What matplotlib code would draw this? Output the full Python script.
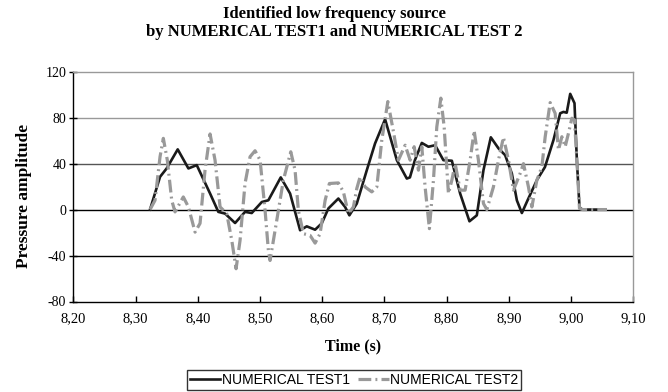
import matplotlib
matplotlib.use("Agg")
import matplotlib.pyplot as plt
import numpy as np

# Numerical test 1 (black solid)
t1 = [8.3233, 8.3394, 8.350, 8.3678, 8.385, 8.3984, 8.4198, 8.4331, 8.4439, 8.460,
      8.476, 8.4868, 8.503, 8.5135, 8.5334, 8.5484, 8.5645, 8.5752, 8.5886, 8.5993,
      8.610, 8.626, 8.6368, 8.6437, 8.6556, 8.6717, 8.685, 8.7011, 8.720, 8.736,
      8.741, 8.749, 8.7601, 8.7707, 8.7815, 8.7948, 8.8084, 8.8217, 8.8367, 8.8485,
      8.8592, 8.871, 8.8833, 8.894, 8.9048, 8.9129, 8.9209, 8.930, 8.945, 8.958,
      8.9717, 8.9825, 8.9877, 8.993, 8.9986, 9.0055, 9.0093, 9.0135, 9.0173, 9.055]
p1 = [0, 28.5, 35.8, 52.4, 35.8, 38.7, 14, -2, -3.5, -11.7,
      -2, -3, 6.6, 8.1, 28, 14, -18, -14.6, -17.5, -12,
      1, 9.6, 2.3, -5, 5.2, 34.3, 57.6, 78.6, 43, 27,
      28, 43, 58, 54.7, 56, 43, 42.5, 14, -10.2, -5,
      34.3, 62.9, 53.3, 47.4, 31.4, 8, -3, 8, 25.6, 37,
      60.5, 83.8, 85, 84.3, 100.7, 92.6, 43, 2.3, 0, 0]

# Numerical test 2 (gray dash-dot)
t2 = [8.3233, 8.3313, 8.3394, 8.3447, 8.3511, 8.3582, 8.3635, 8.3768, 8.385, 8.3957,
      8.4037, 8.4117, 8.4198, 8.4278, 8.4359, 8.4466, 8.4547, 8.4616, 8.468, 8.476,
      8.4841, 8.4921, 8.5002, 8.5082, 8.5135, 8.5162, 8.527, 8.5376, 8.5495, 8.5564,
      8.5617, 8.5698, 8.5805, 8.5886, 8.5966, 8.6047, 8.6116, 8.626, 8.6341, 8.6421,
      8.6502, 8.6556, 8.6609, 8.669, 8.6797, 8.6878, 8.6958, 8.7055, 8.7145, 8.7225,
      8.7333, 8.7414, 8.7478, 8.7547, 8.7601, 8.7654, 8.7723, 8.7788, 8.7842, 8.7907,
      8.796, 8.8029, 8.8084, 8.8137, 8.8217, 8.8297, 8.8378, 8.8442, 8.8511, 8.8592,
      8.8646, 8.8752, 8.8833, 8.8913, 8.8994, 8.9074, 8.9181, 8.9235, 8.9315, 8.937,
      8.945, 8.953, 8.9584, 8.9664, 8.9744, 8.9797, 8.9852, 8.9905, 8.9958, 9.0013,
      9.0055, 9.0093, 9.0135, 9.019, 9.0576]
p2 = [0, 8, 46, 62, 43, 8, -2, 11, 2.3, -19.6,
      -12, 34.3, 65.8, 43, 2.3, -3.5, -26.8, -51.5, -26.8, 22.7,
      46, 51.2, 43, -0.6, -35.5, -44.3, -9.3, 25.6, 50.3, 34.3,
      -0.6, -21, -22.4, -29.2, -21, 8, 22.7, 23.2, 15.4, -3.5,
      2.3, 18.3, 28.5, 19.7, 15.4, 19.7, 60.5, 94, 67.8, 43,
      56, 43, 54.7, 34.3, 54.7, 19.7, -16.6, 25.6, 72, 97,
      72, 14, 25.6, 40, 16.9, 16.9, 43, 68.7, 43, 5.2,
      0, 19.7, 43, 62.9, 43, 16.9, 31.4, 40, 19.7, 2.3,
      25.6, 37, 63.4, 93.1, 83.8, 51.8, 63.4, 54.7, 66.4, 79.5,
      78, 43, 1, 0, 0]

xticks = [8.2, 8.3, 8.4, 8.5, 8.6, 8.7, 8.8, 8.9, 9.0, 9.1]
xticklabels = ['8,20', '8,30', '8,40', '8,50', '8,60', '8,70', '8,80', '8,90', '9,00', '9,10']
yticks = [-80, -40, 0, 40, 80, 120]
yticklabels = ['-80', '-40', '0', '40', '80', '120']

serif = 'Liberation Serif'

fig = plt.figure(figsize=(6.68, 3.92), dpi=100)
ax = fig.add_axes([73.3 / 668, 1 - 301.5 / 392, 560 / 668, 229.8 / 392])

# horizontal gridlines, shades as in the scan
grid_colors = {-40: 'black', 0: 'black', 40: '#555555', 80: '#999999'}
for yv, c in grid_colors.items():
    ax.axhline(yv, color=c, linewidth=1, zorder=1)

l1, = ax.plot(t1, p1, color='#1a1a1a', linewidth=1.9, zorder=3, label='NUMERICAL TEST1')
l2, = ax.plot(t2, p2, color='#999999', linewidth=2.3, linestyle=(0, (4, 1.3, 0.6, 1.3)),
              zorder=4, label='NUMERICAL TEST2')

ax.set_xlim(8.2, 9.1)
ax.set_ylim(-80, 120)
ax.set_xticks(xticks)
ax.set_xticklabels(xticklabels, fontfamily=serif, fontsize=10.5)
ax.set_yticks(yticks)
ax.set_yticklabels(yticklabels, fontfamily=serif, fontsize=10)
ax.tick_params(axis='x', direction='in', length=4, width=1, pad=8)
ax.tick_params(axis='y', direction='inout', length=6, width=1, pad=2)

for s in ['left', 'bottom']:
    ax.spines[s].set_color('black')
for s in ['top', 'right']:
    ax.spines[s].set_color('#999999')
for s in ax.spines.values():
    s.set_linewidth(1)

ax.set_xlabel('Time (s)', fontfamily=serif, fontsize=11.5, fontweight='bold', labelpad=9)
ax.set_ylabel('Pressure amplitude', fontfamily=serif, fontsize=12.5, fontweight='bold')
ax.yaxis.set_label_coords(-0.074, 0.46)

fig.text(0.5, 1 - 14 / 392, 'Identified low frequency source', ha='center', va='center',
         fontfamily=serif, fontsize=12, fontweight='bold')
fig.text(0.5, 1 - 32 / 392, 'by NUMERICAL TEST1 and NUMERICAL TEST 2', ha='center', va='center',
         fontfamily=serif, fontsize=12, fontweight='bold')

leg = fig.legend(handles=[l1, l2], loc='center', bbox_to_anchor=(354 / 668, 1 - 380 / 392),
                 ncol=2, frameon=True, fancybox=False, handlelength=2.2, handletextpad=0.1,
                 columnspacing=0.6, borderpad=0.2, borderaxespad=0,
                 prop={'family': 'Liberation Sans', 'size': 10})
leg.get_frame().set_edgecolor('black')
leg.get_frame().set_linewidth(1)

fig.savefig('out.png', dpi=100)
